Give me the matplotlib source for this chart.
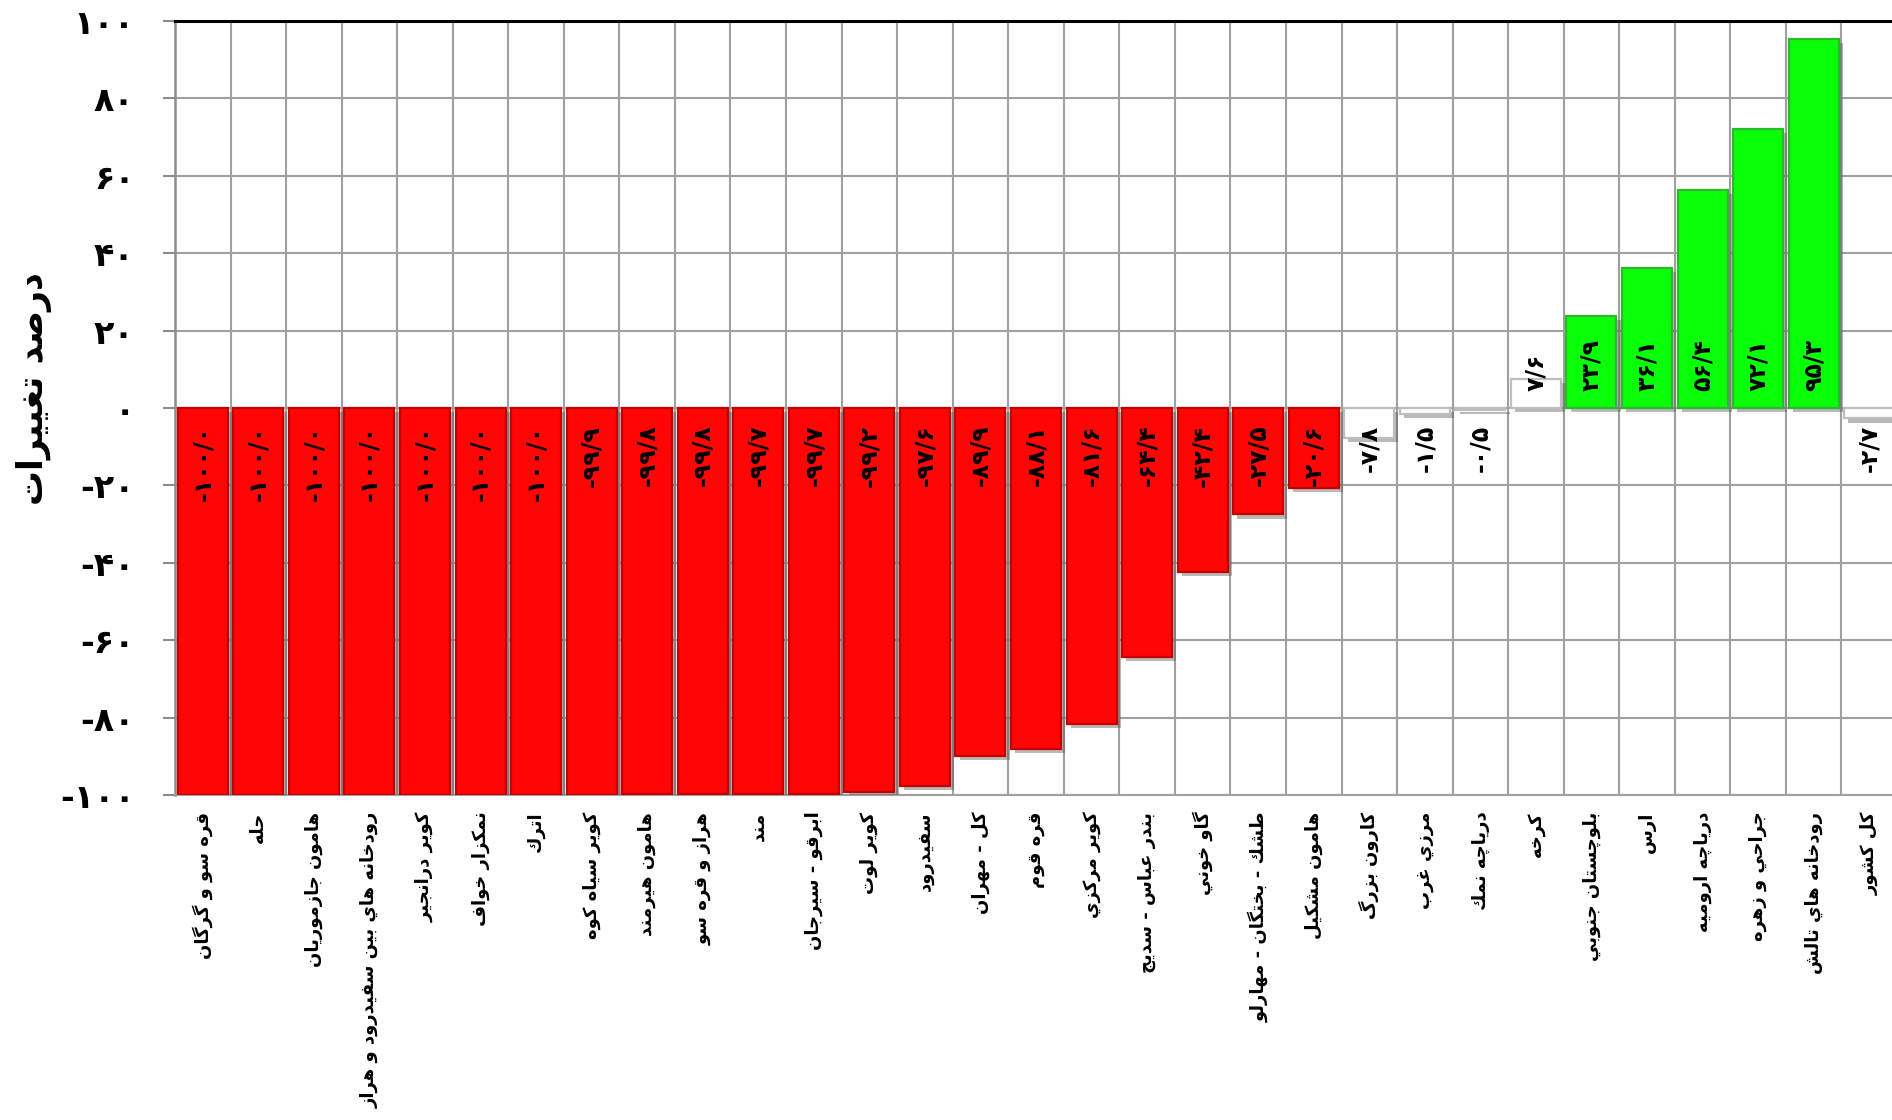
import matplotlib
matplotlib.use("Agg")
import matplotlib.pyplot as plt
import matplotlib.patheffects as pe
from matplotlib.ticker import FixedLocator, FuncFormatter

# basin names (logical order, Persian)
basins = [
    "قره سو و گرگان", "حله", "هامون جازموريان", "رودخانه هاي بين سفيدرود و هراز",
    "كوير درانجير", "نمكزار خواف", "اترك", "كوير سياه كوه", "هامون هيرمند",
    "هراز و قره سو", "مند", "ابرقو - سيرجان", "كوير لوت", "سفيدرود", "كل - مهران",
    "قره قوم", "كوير مركزي", "بندر عباس - سديج", "گاو خوني",
    "طشك - بختگان - مهارلو", "هامون مشكيل", "كارون بزرگ", "مرزي غرب",
    "درياچه نمك", "كرخه", "بلوچستان جنوبي", "ارس", "درياچه اروميه",
    "جراحي و زهره", "رودخانه هاي تالش", "كل كشور",
]
change_pct = [
    -100.0, -100.0, -100.0, -100.0, -100.0, -100.0, -100.0, -99.9, -99.8,
    -99.8, -99.7, -99.7, -99.2, -97.6, -89.9, -88.1, -81.6, -64.4, -42.4,
    -27.5, -20.6, -7.8, -1.5, -0.5, 7.6, 23.9, 36.1, 56.4, 72.1, 95.3, -2.7,
]
y_ticks = [-100, -80, -60, -40, -20, 0, 20, 40, 60, 80, 100]
y_title = "درصد تغييرات"

# --- minimal arabic shaping (matplotlib has no complex text layout) ---
FORMS = {
    "ا": (0xFE8D, 0xFE8E, None, None),
    "ب": (0xFE8F, 0xFE90, 0xFE91, 0xFE92),
    "پ": (0xFB56, 0xFB57, 0xFB58, 0xFB59),
    "ت": (0xFE95, 0xFE96, 0xFE97, 0xFE98),
    "ج": (0xFE9D, 0xFE9E, 0xFE9F, 0xFEA0),
    "چ": (0xFB7A, 0xFB7B, 0xFB7C, 0xFB7D),
    "ح": (0xFEA1, 0xFEA2, 0xFEA3, 0xFEA4),
    "خ": (0xFEA5, 0xFEA6, 0xFEA7, 0xFEA8),
    "د": (0xFEA9, 0xFEAA, None, None),
    "ر": (0xFEAD, 0xFEAE, None, None),
    "ز": (0xFEAF, 0xFEB0, None, None),
    "س": (0xFEB1, 0xFEB2, 0xFEB3, 0xFEB4),
    "ش": (0xFEB5, 0xFEB6, 0xFEB7, 0xFEB8),
    "ص": (0xFEB9, 0xFEBA, 0xFEBB, 0xFEBC),
    "ط": (0xFEC1, 0xFEC2, 0xFEC3, 0xFEC4),
    "ع": (0xFEC9, 0xFECA, 0xFECB, 0xFECC),
    "غ": (0xFECD, 0xFECE, 0xFECF, 0xFED0),
    "ف": (0xFED1, 0xFED2, 0xFED3, 0xFED4),
    "ق": (0xFED5, 0xFED6, 0xFED7, 0xFED8),
    "ك": (0xFED9, 0xFEDA, 0xFEDB, 0xFEDC),
    "گ": (0xFB92, 0xFB93, 0xFB94, 0xFB95),
    "ل": (0xFEDD, 0xFEDE, 0xFEDF, 0xFEE0),
    "م": (0xFEE1, 0xFEE2, 0xFEE3, 0xFEE4),
    "ن": (0xFEE5, 0xFEE6, 0xFEE7, 0xFEE8),
    "ه": (0xFEE9, 0xFEEA, 0xFEEB, 0xFEEC),
    "و": (0xFEED, 0xFEEE, None, None),
    "ي": (0xFEF1, 0xFEF2, 0xFEF3, 0xFEF4),
}


def shape(text):
    out = []
    for i, c in enumerate(text):
        if c not in FORMS:
            out.append(c)
            continue
        prev = text[i - 1] if i > 0 else None
        nxt = text[i + 1] if i + 1 < len(text) else None
        iso, fin, ini, med = FORMS[c]
        join_prev = prev in FORMS and FORMS[prev][2] is not None
        join_next = ini is not None and nxt in FORMS
        if join_prev and join_next:
            g = med
        elif join_prev:
            g = fin
        elif join_next:
            g = ini
        else:
            g = iso
        out.append(chr(g))
    return "".join(reversed(out))


FA_DIGITS = str.maketrans("0123456789.", "۰۱۲۳۴۵۶۷۸۹/")


def fa_num(s):
    return s.translate(FA_DIGITS)


plt.rcParams["font.family"] = ["DejaVu Sans"]
plt.rcParams["font.weight"] = "bold"

fig = plt.figure(figsize=(18.92, 11.2), dpi=100)
ax = fig.add_axes([175 / 1892, 1 - 795 / 1120, 1722 / 1892, 774 / 1120])

x = list(range(len(basins)))
colors, edges = [], []
for v in change_pct:
    if v <= -10:
        colors.append("#FF0505"); edges.append("#C40000")
    elif v >= 10:
        colors.append("#08FF08"); edges.append("#2EB82E")
    else:
        colors.append("#FFFFFF"); edges.append("#BEBEBE")

shadow = [pe.SimplePatchShadow(offset=(3, -3), alpha=0.4, shadow_rgbFace="#505050"),
          pe.Normal()]
ax.bar(x, change_pct, width=0.9, color=colors, edgecolor=edges, linewidth=1.6,
       path_effects=shadow, zorder=3)

for xi, v in zip(x, change_pct):
    txt = fa_num(f"{v:.1f}")
    ax.annotate(txt, xy=(xi, 0), xytext=(0, -12 if v < 0 else 12),
                textcoords="offset points", rotation=90, ha="center",
                va="top" if v < 0 else "bottom", fontsize=17,
                fontweight="bold", color="black", zorder=5)

ax.set_xlim(-0.5, len(basins) - 0.5)
ax.set_ylim(-100, 100)

ax.yaxis.set_major_locator(FixedLocator(y_ticks))
ax.yaxis.set_major_formatter(FuncFormatter(lambda v, p: fa_num(f"{int(v)}")))
ax.tick_params(axis="y", direction="out", length=9, width=1.5, color="#8C8C8C",
               pad=20, labelsize=24)

ax.set_xticks(x)
ax.set_xticklabels([shape(b) for b in basins], rotation=90, va="top", ha="center",
                   fontsize=13, fontweight="bold")
ax.tick_params(axis="x", length=0, pad=12)
ax.xaxis.set_minor_locator(FixedLocator([i - 0.5 for i in range(len(basins) + 1)]))
ax.tick_params(axis="x", which="minor", length=0)

ax.grid(axis="y", which="major", color="#A0A0A0", linewidth=1.5, zorder=0)
ax.grid(axis="x", which="minor", color="#A0A0A0", linewidth=1.5, zorder=0)
ax.set_axisbelow(True)

ax.spines["right"].set_visible(False)
ax.spines["top"].set_color("black")
ax.spines["top"].set_linewidth(2.2)
ax.spines["left"].set_color("#8C8C8C")
ax.spines["left"].set_linewidth(1.8)
ax.spines["bottom"].set_color("#A0A0A0")
ax.spines["bottom"].set_linewidth(1.5)

fig.text(34 / 1892, 1 - 389 / 1120, shape(y_title), rotation=90, ha="center",
         va="center", fontsize=25, fontweight="bold")

fig.savefig("out.png", dpi=100)
